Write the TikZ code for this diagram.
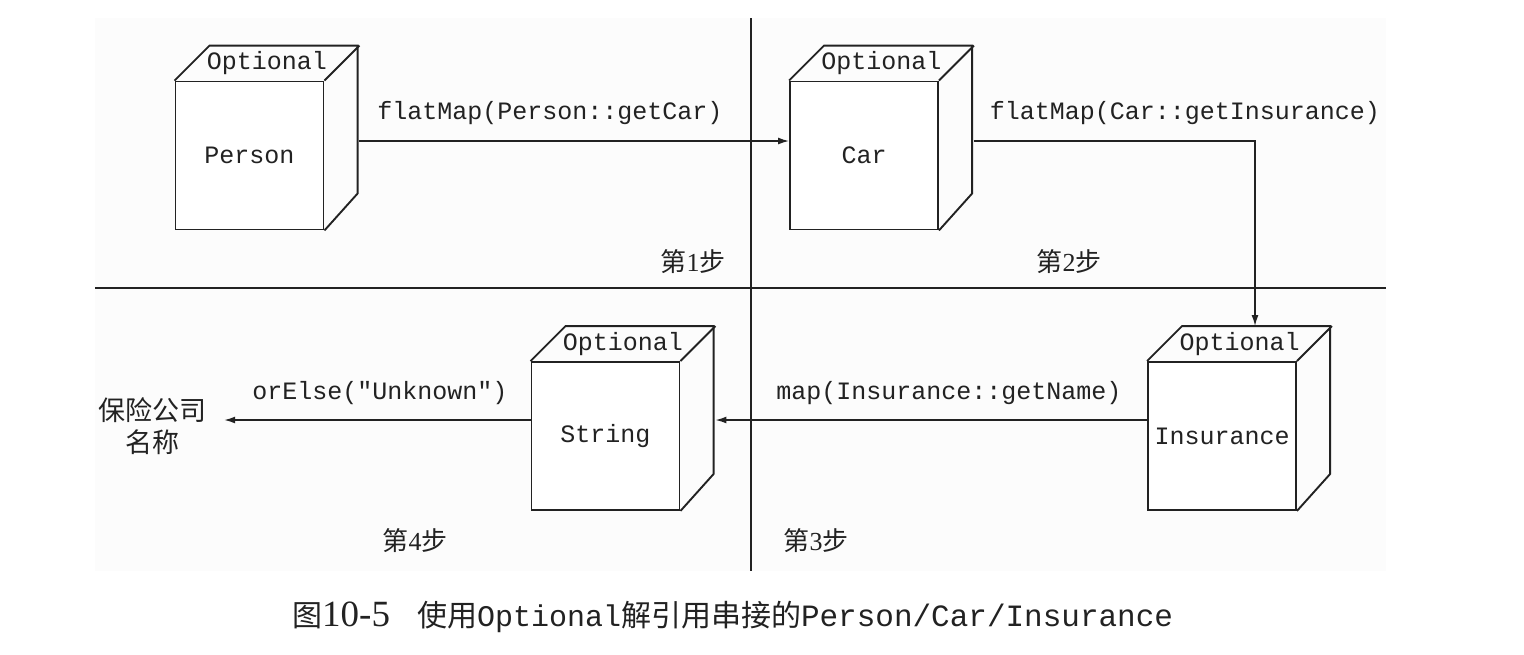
\documentclass[tikz,border=0pt]{standalone}
\usepackage{fontspec}
\setmonofont{Liberation Mono}
\newfontfamily\cjk{Noto Sans CJK SC}
\newfontfamily\sernum{Liberation Serif}
\usetikzlibrary{arrows.meta,calc}
\definecolor{panel}{HTML}{FCFCFC}
\definecolor{ink}{HTML}{222222}
\tikzset{
  front/.style={draw=ink, line width=1.9pt, fill=white, minimum width=148pt, minimum height=148pt, inner sep=0pt, font=\ttfamily\fontsize{25}{25}\selectfont, text=ink},
  edge/.style={draw=ink, line width=1.9pt, line join=miter},
  toplab/.style={font=\ttfamily\fontsize{25}{25}\selectfont, text=ink, inner sep=0pt},
  conn/.style={draw=ink, line width=1.5pt, -{Latex[length=11pt,width=7pt]}},
  lab/.style={font=\ttfamily\fontsize{25}{25}\selectfont, text=ink, inner sep=0pt},
  steplab/.style={font=\cjk\fontsize{26}{26}\selectfont, text=ink, inner sep=0pt},
  divider/.style={draw=ink, line width=1.5pt}
}
\newcommand\cubebox[4]{%
  \node[front] (#1) at (#2,#3) {#4};
  \draw[edge] (#1.north west) -- ++(35pt,35pt) -- ++(148pt,0pt) -- ++(0pt,-148pt) -- (#1.south east);
  \draw[edge] (#1.north east) -- ++(35pt,35pt);
  \node[toplab] (#1-opt) at ([shift={(17.5pt,17.5pt)}]#1.north) {Optional};
}
\begin{document}
\begin{tikzpicture}[x=1pt,y=-1pt]
\useasboundingbox (0,0) rectangle (1524,654);
\fill[panel] (95,18) rectangle (1386,571);
\coordinate (vt) at (751,18);
\coordinate (vb) at (751,571);
\coordinate (hl) at (95,288);
\coordinate (hr) at (1386,288);
\draw[divider] (vt) -- (vb);
\draw[divider] (hl) -- (hr);

\cubebox{person}{249.5}{155.5}{Person}
\cubebox{car}{864}{155.5}{Car}
\cubebox{ins}{1222}{436}{Insurance}
\cubebox{str}{605.5}{436}{String}

\node[steplab, align=center, font=\cjk\fontsize{27}{32}\selectfont] (out) at (152,426) {保险公司\\名称};

\draw[conn] ([xshift=35pt,yshift=14.5pt]person.east) -- ([yshift=14.5pt]car.west);
\draw[conn] ([xshift=35pt,yshift=14.5pt]car.east) -| ([xshift=33pt,yshift=35pt]ins.north);
\draw[conn] ([yshift=16pt]ins.west) -- ([xshift=35pt,yshift=16pt]str.east);
\draw[conn] ([yshift=16pt]str.west) -- ([xshift=18pt,yshift=6pt]out.east);

\node[lab] (l1) at (550,113) {flatMap(Person::getCar)};
\node[lab] (l2) at (1185,113) {flatMap(Car::getInsurance)};
\node[lab] (l3) at (949,393) {map(Insurance::getName)};
\node[lab] (l4) at (380,393) {orElse("Unknown")};

\node[steplab] (s1) at (693,262) {第{\sernum 1}步};
\node[steplab] (s2) at (1069,262) {第{\sernum 2}步};
\node[steplab] (s4) at (415,541) {第{\sernum 4}步};
\node[steplab] (s3) at (816,541) {第{\sernum 3}步};

\node[anchor=west, inner sep=0pt, text=ink, font=\cjk\fontsize{30}{30}\selectfont] (cap) at (292,617) {图{\sernum\fontsize{37}{32}\selectfont 10-5}\hspace{27pt}使用{\ttfamily\fontsize{30}{30}\selectfont Optional}解引用串接的{\ttfamily\fontsize{31}{30}\selectfont Person/Car/Insurance}};
\end{tikzpicture}
\end{document}
